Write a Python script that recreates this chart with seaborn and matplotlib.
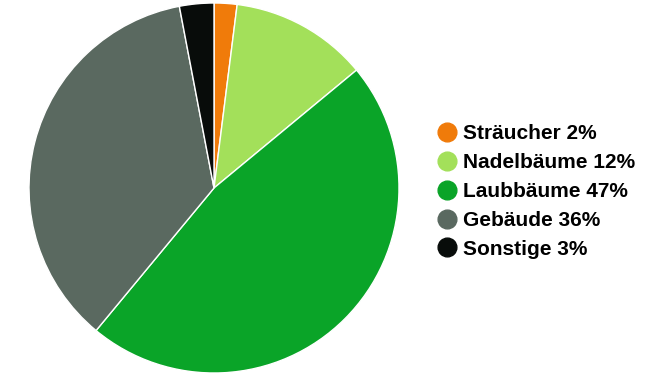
import matplotlib
matplotlib.use("Agg")
import matplotlib.pyplot as plt
import seaborn as sns
from matplotlib.lines import Line2D

categories = ["Sträucher", "Nadelbäume", "Laubbäume", "Gebäude", "Sonstige"]
values = [2, 12, 47, 36, 3]
colors = ["#F07B0A", "#A3E05A", "#0AA428", "#5A6960", "#080C0A"]

sns.set_style("white")
plt.rcParams['font.family'] = ['Liberation Sans', 'DejaVu Sans']

W, H = 661, 378
fig = plt.figure(figsize=(W / 100, H / 100), dpi=100)
cx, cy, r = 214, 188, 185
ax = fig.add_axes([(cx - r) / W, (H - cy - r) / H, 2 * r / W, 2 * r / H])
ax.pie(values, colors=colors, startangle=90, counterclock=False,
       wedgeprops=dict(edgecolor="white", linewidth=1), radius=1)
ax.set_xlim(-1, 1)
ax.set_ylim(-1, 1)
ax.set_aspect("auto")
ax.axis("off")

handles = [Line2D([], [], marker="o", linestyle="none", markersize=13.5,
                  markerfacecolor=c, markeredgecolor=c) for c in colors]
labels = [f"{c} {v}%" for c, v in zip(categories, values)]
leg = fig.legend(handles, labels, loc="center left", bbox_to_anchor=(437 / W, 1 - 191.5 / H),
                 frameon=False, prop=dict(size=15, weight="bold"), handletextpad=0.25,
                 labelspacing=0.47, handlelength=1.0, borderaxespad=0, borderpad=0)
for t in leg.get_texts():
    t.set_color("black")

fig.savefig("out.png", dpi=100)
